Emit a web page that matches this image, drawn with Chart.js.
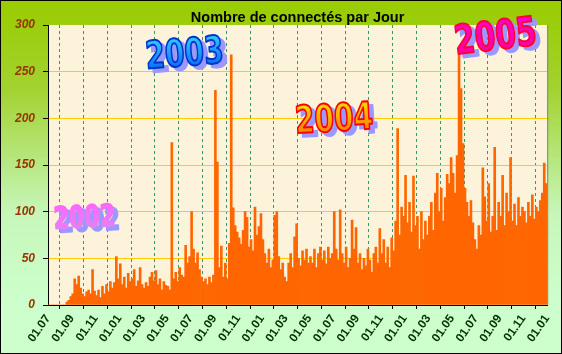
<!DOCTYPE html>
<html>
<head>
<meta charset="utf-8">
<script src="https://cdn.jsdelivr.net/npm/chart.js@4"></script>
<style>
  body { margin: 0; background: #fff; }
  canvas { display: block; }
</style>
</head>
<body>
<canvas id="chart" width="562" height="354"></canvas>
<script>
// tick labels every two months, 01.07.2002 -> 01.01.2006
const monthLabels = ['01.07', '01.09', '01.11', '01.01', '01.03', '01.05', '01.07', '01.09', '01.11', '01.01', '01.03',
  '01.05', '01.07', '01.09', '01.11', '01.01', '01.03', '01.05', '01.07', '01.09', '01.11', '01.01'];

// connections, one bar ~ 5 days (12 bars per two-month step)
const values2002 = [0, 0, 0, 0, 0, 0, 0, 0, 0, 3, 5, 9,
  12, 28, 22, 31, 18, 12, 9, 14, 16, 12, 38, 15,
  10, 16, 8, 20, 12, 22, 14, 25, 18, 24, 52, 28];
const values2003 = [44, 22, 30, 18, 34, 25, 28, 38, 20, 26, 40, 22,
  18, 24, 20, 30, 35, 26, 37, 22, 28, 16, 25, 21,
  20, 16, 174, 28, 35, 25, 40, 32, 30, 64, 45, 52,
  100, 60, 45, 56, 38, 30, 25, 28, 22, 30, 24, 32,
  230, 153, 40, 63, 30, 45, 28, 66, 268, 104, 85, 78,
  72, 65, 80, 100, 94, 62, 70, 58, 105, 75, 84, 98];
const values2004 = [70, 55, 45, 60, 40, 48, 96, 100, 52, 38, 45, 30,
  25, 45, 55, 40, 73, 87, 50, 42, 58, 48, 60, 45,
  52, 45, 60, 40, 55, 62, 48, 58, 44, 62, 50, 55,
  100, 60, 48, 102, 55, 45, 62, 40, 50, 91, 60, 83,
  45, 55, 38, 50, 42, 60, 48, 35, 55, 62, 45, 82,
  55, 70, 45, 62, 40, 72, 58, 90, 189, 75, 105, 95];
const values2005 = [139, 88, 110, 78, 138, 85, 95, 60, 100, 70, 90, 75,
  95, 110, 80, 120, 141, 100, 125, 90, 115, 140, 130, 158,
  141, 120, 160, 268, 232, 173, 125, 110, 95, 112, 88, 70,
  60, 85, 75, 147, 116, 90, 130, 78, 95, 169, 80, 110,
  95, 139, 85, 120, 100, 158, 90, 108, 85, 115, 95, 105,
  100, 88, 110, 95, 118, 92, 105, 100, 112, 120, 152, 130];

const yearTitles = ['2002', '2003', '2004', '2005'];

const allValues = values2002.concat(values2003, values2004, values2005);
const points = allValues.map((v, i) => ({ x: i + 0.5, y: v }));

// WordArt-like year captions, placed in data units
const yearStyle = [
  { x: 18.5, y: 92, size: 30, angle: -0.05, top: '#ff66ff', bottom: '#dd88ee', line: null },
  { x: 69, y: 267, size: 38, angle: -0.08, top: '#33ccff', bottom: '#0055ff', line: '#0033cc' },
  { x: 144.5, y: 197, size: 38, angle: -0.06, top: '#ffdd00', bottom: '#ff6600', line: '#ff0000' },
  { x: 226, y: 285, size: 40, angle: -0.12, top: '#ff00cc', bottom: '#ff0099', line: '#ff0033' }
];

const backdrop = {
  id: 'backdrop',
  beforeDraw(chart) {
    const { ctx, chartArea: a, width, height } = chart;
    ctx.save();
    const g = ctx.createLinearGradient(0, 0, 0, height);
    g.addColorStop(0, '#99cc00');
    g.addColorStop(0.25, '#a2d230');
    g.addColorStop(0.6, '#c6f6b8');
    g.addColorStop(0.85, '#ccffcc');
    ctx.fillStyle = g;
    ctx.fillRect(0, 0, width, height);
    ctx.fillStyle = '#fdf3da';
    ctx.fillRect(a.left, a.top, a.right - a.left, a.bottom - a.top);
    ctx.restore();
  },
  afterDraw(chart) {
    const { ctx, chartArea: a, width, height } = chart;
    ctx.save();
    ctx.strokeStyle = '#808080';
    ctx.beginPath();
    ctx.moveTo(a.right + 0.5, a.top);
    ctx.lineTo(a.right + 0.5, a.bottom);
    ctx.stroke();
    ctx.strokeStyle = '#000';
    ctx.strokeRect(0.5, 0.5, width - 1, height - 1);
    ctx.restore();
  }
};

const yearArt = {
  id: 'yearArt',
  afterDatasetsDraw(chart) {
    const { ctx, scales } = chart;
    yearTitles.forEach((t, i) => {
      const s = yearStyle[i];
      const px = scales.x.getPixelForValue(s.x);
      const py = scales.y.getPixelForValue(s.y);
      ctx.save();
      ctx.translate(px, py);
      ctx.rotate(s.angle);
      ctx.scale(0.74, 1);
      ctx.font = 'bold ' + s.size + 'px "DejaVu Sans"';
      ctx.textAlign = 'center';
      ctx.textBaseline = 'middle';
      ctx.lineJoin = 'round';
      ctx.fillStyle = '#9999ff';
      ctx.strokeStyle = '#9999ff';
      ctx.lineWidth = 2;
      ctx.fillText(t, 6, 4);
      ctx.strokeText(t, 6, 4);
      const g = ctx.createLinearGradient(0, -s.size / 2, 0, s.size / 2);
      g.addColorStop(0, s.top);
      g.addColorStop(1, s.bottom);
      ctx.fillStyle = g;
      ctx.strokeStyle = s.line || g;
      ctx.fillText(t, 0, 0);
      ctx.strokeText(t, 0, 0);
      ctx.restore();
    });
  }
};

new Chart(document.getElementById('chart'), {
  type: 'bar',
  data: {
    datasets: [{
      data: points,
      backgroundColor: '#ff6600',
      borderWidth: 0,
      barPercentage: 1,
      categoryPercentage: 1
    }]
  },
  options: {
    responsive: false,
    animation: false,
    devicePixelRatio: 1,
    layout: { padding: { top: 1, right: 10, left: 0, bottom: 0 } },
    plugins: {
      legend: { display: false },
      tooltip: { enabled: false },
      title: {
        display: true,
        fullSize: false,
        text: 'Nombre de connectés par Jour',
        color: '#000',
        font: { family: 'Liberation Sans', size: 14.5, weight: 'bold', lineHeight: 1 },
        padding: { top: 9.5, bottom: 0 }
      }
    },
    scales: {
      x: {
        type: 'linear',
        min: 0,
        max: 252,
        offset: false,
        afterFit(scale) { scale.height = 49; },
        border: { color: '#000', dash: [3, 3] },
        grid: {
          color: c => (c.index === 0 ? 'rgba(0,0,0,0)' : '#339966'),
          tickColor: '#000',
          tickBorderDash: [],
          tickLength: 4
        },
        ticks: {
          stepSize: 12,
          autoSkip: false,
          maxRotation: 55,
          minRotation: 55,
          padding: 3,
          color: '#003300',
          font: { family: 'Liberation Sans', size: 12, weight: 'bold' },
          callback: v => monthLabels[Math.round(v / 12)]
        }
      },
      y: {
        min: 0,
        max: 300,
        afterFit(scale) { scale.width = 48; },
        border: { color: '#000' },
        grid: {
          color: c => (c.tick.value > 0 && c.tick.value < 300 ? '#ffcc00' : 'rgba(0,0,0,0)'),
          tickColor: '#000',
          tickLength: 5
        },
        ticks: {
          stepSize: 50,
          padding: 8,
          color: '#993300',
          font: { family: 'Liberation Sans', size: 12, style: 'italic', weight: 'bold' }
        }
      }
    }
  },
  plugins: [backdrop, yearArt]
});
</script>
</body>
</html>
